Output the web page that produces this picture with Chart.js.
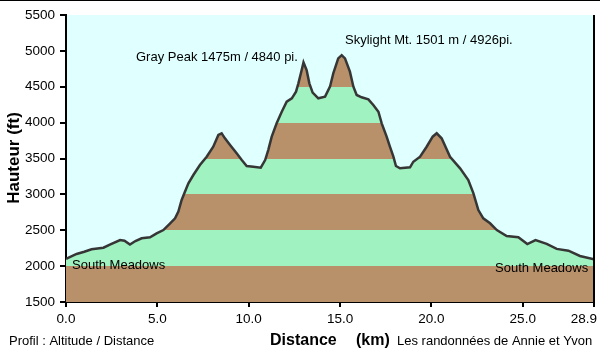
<!DOCTYPE html>
<html>
<head>
<meta charset="utf-8">
<script src="https://cdn.jsdelivr.net/npm/chart.js@4/dist/chart.umd.min.js"></script>
<style>
  html, body { margin: 0; padding: 0; background: #fff; }
  canvas { display: block; }
</style>
</head>
<body>
<canvas id="c" width="600" height="354"></canvas>
<script>
// ---- Data ----
const distanceKm = [0, 0.58, 1.0, 1.4, 2.05, 2.4, 2.96, 3.2, 3.5, 3.8, 4.14, 4.6, 4.96, 5.33, 5.7, 5.97, 6.15, 6.33, 6.51, 6.7, 6.97, 7.33, 7.7, 8.06, 8.34, 8.52, 8.7, 8.98, 9.34, 9.62, 9.89, 10.25, 10.66, 10.9, 11.07, 11.26, 11.53, 11.81, 12.08, 12.36, 12.59, 12.72, 12.9, 13.0, 13.17, 13.32, 13.5, 13.81, 14.18, 14.45, 14.63, 14.9, 15.09, 15.27, 15.54, 15.73, 15.91, 16.18, 16.55, 16.82, 17.1, 17.28, 17.55, 17.73, 17.92, 18.06, 18.28, 18.83, 19.01, 19.38, 19.74, 20.07, 20.29, 20.56, 21.02, 21.57, 22.02, 22.3, 22.57, 22.84, 23.21, 23.58, 24.12, 24.76, 25.25, 25.7, 26.31, 26.86, 27.5, 28.13, 28.9];
const altitudeFt = [2100, 2170, 2200, 2234, 2257, 2300, 2364, 2355, 2300, 2350, 2388, 2402, 2457, 2503, 2597, 2666, 2760, 2922, 3037, 3154, 3270, 3409, 3525, 3664, 3828, 3851, 3781, 3688, 3572, 3479, 3395, 3386, 3372, 3479, 3618, 3804, 3990, 4152, 4292, 4339, 4431, 4548, 4733, 4840, 4733, 4548, 4418, 4339, 4362, 4501, 4687, 4896, 4940, 4896, 4710, 4501, 4385, 4353, 4325, 4246, 4152, 3990, 3804, 3664, 3525, 3395, 3363, 3377, 3455, 3525, 3664, 3804, 3851, 3781, 3525, 3363, 3200, 3015, 2782, 2666, 2597, 2503, 2420, 2402, 2308, 2364, 2310, 2240, 2215, 2141, 2095];
const xTickValues = [0, 5, 10, 15, 20, 25, 28.9];
const yTickValues = [1500, 2000, 2500, 3000, 3500, 4000, 4500, 5000, 5500];
const bandEdges = [1500, 2000, 2500, 3000, 3500, 4000, 4500, 5000, 5500];
const peakLabels = ["Gray Peak 1475m / 4840 pi.", "Skylight Mt. 1501 m / 4926pi."];
const placeLabels = ["South Meadows", "South Meadows"];

const BROWN = '#B8916A';
const GREEN = '#A0F2C0';
const SKY = '#E0FFFF';
const FONT = "'Liberation Sans', Arial, sans-serif";
const lastX = xTickValues[xTickValues.length - 1];

function bandFill(context) {
  const chart = context.chart;
  const area = chart.chartArea;
  const y = chart.scales.y;
  if (!area || !y) return GREEN;
  const top = y.getPixelForValue(bandEdges[bandEdges.length - 1]);
  const bot = y.getPixelForValue(bandEdges[0]);
  const g = chart.ctx.createLinearGradient(0, bot, 0, top);
  const span = bandEdges[bandEdges.length - 1] - bandEdges[0];
  for (let i = 0; i < bandEdges.length - 1; i++) {
    const c = (i % 2 === 0) ? BROWN : GREEN;
    const a = (bandEdges[i] - bandEdges[0]) / span;
    const b = (bandEdges[i + 1] - bandEdges[0]) / span;
    g.addColorStop(a, c);
    g.addColorStop(Math.max(a, b - 0.0001), c);
  }
  return g;
}

const decor = {
  id: 'decor',
  beforeDraw(chart) {
    const { ctx, chartArea: a } = chart;
    ctx.save();
    ctx.fillStyle = SKY;
    ctx.fillRect(a.left, a.top, a.right - a.left, a.bottom - a.top);
    ctx.restore();
  },
  afterDraw(chart) {
    const { ctx, chartArea: a } = chart;
    ctx.save();
    ctx.fillStyle = '#000';
    ctx.fillRect(0, 0, 600, 1);
    ctx.strokeStyle = '#000';
    ctx.lineWidth = 2;
    ctx.beginPath();
    ctx.moveTo(a.right, a.top);
    ctx.lineTo(a.right, a.bottom);
    ctx.stroke();

    ctx.fillStyle = '#000';
    ctx.textBaseline = 'middle';
    ctx.textAlign = 'left';
    ctx.font = '13px ' + FONT;
    ctx.fillText(peakLabels[0], 136, 57);
    ctx.fillText(peakLabels[1], 345, 40);
    ctx.fillText(placeLabels[0], 72, 265);
    ctx.fillText(placeLabels[1], 495, 268);

    ctx.fillText('Profil : Altitude / Distance', 9, 341);
    ctx.fillText('Les randonnées de Annie et Yvon', 397, 341);

    // last x tick label, kept inside the canvas as in the reference
    ctx.font = '13.5px ' + FONT;
    ctx.textAlign = 'right';
    ctx.textBaseline = 'top';
    const xs = chart.scales.x;
    ctx.fillText(lastX.toFixed(1), Math.min(xs.getPixelForValue(lastX) + 3, 598), a.bottom + 11);

    ctx.textAlign = 'left';
    ctx.textBaseline = 'middle';
    ctx.font = 'bold 16px ' + FONT;
    ctx.fillText('Distance', 270, 341);
    ctx.fillText('(km)', 356, 341);

    ctx.translate(14, 158);
    ctx.rotate(-Math.PI / 2);
    ctx.textAlign = 'center';
    ctx.font = 'bold 17px ' + FONT;
    ctx.fillText('Hauteur (ft)', 0, 0);
    ctx.restore();
  }
};

new Chart(document.getElementById('c'), {
  type: 'line',
  data: {
    datasets: [{
      data: distanceKm.map((x, i) => ({ x, y: altitudeFt[i] })),
      borderColor: '#363636',
      borderWidth: 2.5,
      backgroundColor: bandFill,
      fill: 'start',
      pointRadius: 0,
      tension: 0
    }]
  },
  options: {
    responsive: false,
    animation: false,
    devicePixelRatio: 1,
    layout: { padding: { top: 15, right: 6, left: 0, bottom: 0 } },
    plugins: { legend: { display: false }, tooltip: { enabled: false }, title: { display: false } },
    scales: {
      x: {
        type: 'linear',
        min: 0, max: lastX,
        afterBuildTicks: s => { s.ticks = xTickValues.map(v => ({ value: v })); },
        afterFit: s => { s.height = 52; s.paddingLeft = 0; s.paddingRight = 0; },
        ticks: {
          color: '#000', font: { family: FONT, size: 13.5 }, padding: 4,
          maxRotation: 0, autoSkip: false,
          callback: v => (v === lastX ? '' : Number(v).toFixed(1))
        },
        grid: { drawOnChartArea: false, tickLength: 5, color: '#000', lineWidth: 2 },
        border: { color: '#000', width: 2 }
      },
      y: {
        min: 1500, max: 5500,
        afterBuildTicks: s => { s.ticks = yTickValues.map(v => ({ value: v })); },
        afterFit: s => { s.width = 66; s.paddingTop = 0; s.paddingBottom = 0; },
        ticks: {
          color: '#000', font: { family: FONT, size: 13.5 }, padding: 5,
          autoSkip: false,
          callback: v => String(v)
        },
        grid: { drawOnChartArea: false, tickLength: 6, color: '#000', lineWidth: 2 },
        border: { color: '#000', width: 2 }
      }
    }
  },
  plugins: [decor]
});
</script>
</body>
</html>
